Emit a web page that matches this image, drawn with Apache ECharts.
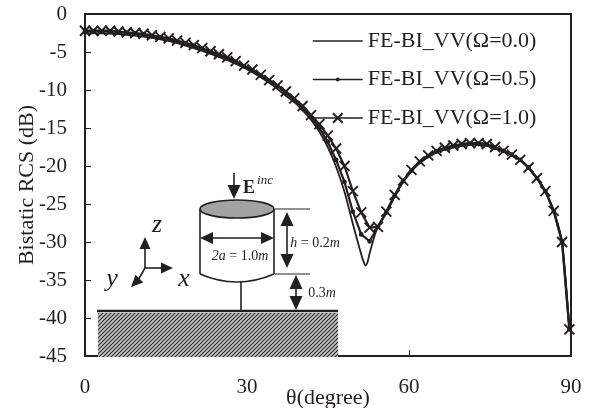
<!DOCTYPE html>
<html><head><meta charset="utf-8">
<script src="https://cdn.jsdelivr.net/npm/echarts@6/dist/echarts.min.js"></script>
<style>html,body{margin:0;padding:0;background:#fff}#c{width:590px;height:408px}</style>
</head><body><div id="c"></div>
<script>
const seriesNames = ['FE-BI_VV(Ω=0.0)','FE-BI_VV(Ω=0.5)','FE-BI_VV(Ω=1.0)'];
const xTicks = [0,30,60,90];
const theta = [0,1.55,3.1,4.65,6.2,7.75,9.3,10.85,12.4,13.95,15.5,17.05,18.6,20.15,21.7,23.25,24.8,26.35,27.9,29.45,31,32.55,34.1,35.65,37.2,38.75,40.3,41.85,43.4,44.95,46.5,48.05,49.6,51.15,52.7,54.25,55.8,57.35,58.9,60.45,62,63.55,65.1,66.65,68.2,69.75,71.3,72.85,74.4,75.95,77.5,79.05,80.6,82.15,83.7,85.25,86.8,88.35,89.7];
const vv10 = [-2.2,-2.2,-2.2,-2.2,-2.3,-2.4,-2.5,-2.6,-2.8,-3.0,-3.2,-3.5,-3.8,-4.1,-4.5,-4.9,-5.3,-5.7,-6.2,-6.8,-7.3,-8.0,-8.7,-9.4,-10.2,-11.1,-12.1,-13.3,-14.5,-16.0,-17.7,-20.0,-23.3,-26.1,-28.1,-28.0,-26.0,-23.8,-21.9,-20.5,-19.4,-18.6,-18.0,-17.6,-17.3,-17.1,-17.0,-17.0,-17.1,-17.5,-18.0,-18.5,-19.2,-20.2,-21.6,-23.3,-25.9,-30.0,-41.5];
const vv05 = [-2.3,-2.3,-2.3,-2.3,-2.4,-2.5,-2.6,-2.7,-2.9,-3.1,-3.3,-3.6,-3.9,-4.2,-4.6,-5.0,-5.4,-5.8,-6.3,-6.9,-7.4,-8.1,-8.8,-9.5,-10.4,-11.3,-12.4,-13.6,-15.0,-16.8,-19.2,-22.1,-26.0,-29.0,-29.9,-28.0,-26.1,-23.9,-22.0,-20.6,-19.5,-18.7,-18.1,-17.7,-17.4,-17.2,-17.1,-17.1,-17.2,-17.6,-18.0,-18.5,-19.2,-20.2,-21.6,-23.3,-25.9,-30.0,-41.5];
const theta00 = [0,3.1,6.2,9.3,12.4,15.5,18.6,21.7,24.8,27.9,31,34.1,37.2,38.75,40.3,41.85,43.4,44.95,46.5,48.05,49.6,50.4,51.15,51.6,51.9,52.3,52.7,53.7,54.25,55.8,57.35,58.9,60.45,62,65.1,68.2,71.3,74.4,77.5,80.6,83.7,85.25,86.8,88.35,89.7];
const vv00 = [-2.55,-2.55,-2.65,-2.85,-3.15,-3.55,-4.15,-4.85,-5.65,-6.55,-7.65,-9.05,-10.75,-11.6,-12.7,-13.9,-15.5,-17.5,-20.1,-23.4,-27.6,-29.7,-31.6,-32.6,-33.1,-32.7,-31.5,-29.0,-28.0,-26.2,-24.0,-22.1,-20.7,-19.6,-18.2,-17.5,-17.2,-17.3,-18.1,-19.2,-21.6,-23.3,-25.9,-30.0,-41.5];

const pair = (xs, ys) => xs.map((x, i) => [x, ys[i]]);
const ink = '#231f20', serif = '"Liberation Serif", serif';
const crossSymbol = 'path://M0 0L10 10M10 0L0 10';
const dotSymbol = 'path://M0 0h0.01M10 10h0.01M3 5a2 2 0 1 0 4 0a2 2 0 1 0 -4 0Z';
const blankSymbol = 'path://M0 0h0.01M10 10h0.01';

const cv = document.createElement('canvas'); cv.width = 4; cv.height = 4;
const cx = cv.getContext('2d');
cx.fillStyle = '#c9c9c9'; cx.fillRect(0,0,4,4);
cx.strokeStyle = '#2a2a2a'; cx.lineWidth = 1.2;
cx.beginPath(); cx.moveTo(-1,5); cx.lineTo(5,-1); cx.moveTo(-1,1); cx.lineTo(1,-1); cx.moveTo(3,5); cx.lineTo(5,3); cx.stroke();

const Z = 6;
const ln = (x1,y1,x2,y2,w=1.6) => ({type:'line', z:Z, shape:{x1,y1,x2,y2}, style:{stroke:ink, lineWidth:w}});
const head = (x,y,dx,dy,len=14,hw=6.5) => ({type:'polygon', z:Z, shape:{points:[[x,y],[x-dx*len-dy*hw,y-dy*len+dx*hw],[x-dx*len+dy*hw,y-dy*len-dx*hw]]}, style:{fill:ink}});
const txt = (x,y,text,font,extra={}) => ({type:'text', z:Z, x, y, style:Object.assign({text, font, fill:ink, align:'center', verticalAlign:'middle'}, extra)});
const ital = {i:{fontStyle:'italic', fontFamily:serif, fontSize:14, fill:ink}};
const inset = [
  {type:'rect', z:Z, shape:{x:98,y:313,width:240,height:44}, style:{fill:{image:cv, repeat:'repeat'}}},
  ln(97,311,338,311,2.4),
  ln(200,209,200,274), ln(274,209,274,274),
  {type:'bezierCurve', z:Z, shape:{x1:200,y1:274,x2:274,y2:274,cpx1:237,cpy1:290}, style:{fill:'none', stroke:ink, lineWidth:1.6}},
  {type:'ellipse', z:Z, shape:{cx:237,cy:209,rx:37,ry:9}, style:{fill:'#a3a3a3', stroke:ink, lineWidth:1.6}},
  ln(241,282,241,311),
  ln(234,173,234,190), head(234,199,0,1),
  txt(249,188,'E','bold 18px '+serif),
  txt(265,181,'inc','italic 13px '+serif),
  ln(206,238,268,238), head(200,238,-1,0,13,6), head(274,238,1,0,13,6),
  txt(240,256,'{i|2a} = 1.0{i|m}','14px '+serif,{rich:ital}),
  ln(275,209,310,209,1.2), ln(275,274,310,274,1.2),
  ln(287,218,287,262), head(287,212,0,-1), head(287,268,0,1),
  txt(315,243,'{i|h} = 0.2{i|m}','14px '+serif,{rich:ital}),
  ln(296,282,296,303), head(296,275,0,-1), head(296,310,0,1),
  txt(322,293,'0.3{i|m}','14px '+serif,{rich:ital}),
  ln(145,268,145,244), head(145,237,0,-1,12,5.5),
  ln(145,268,166,268), head(173,268,1,0,12,5.5),
  ln(145,268,137,282), head(131,287,-0.7,0.7,12,5.5),
  txt(157,225,'z','italic 26px '+serif),
  txt(112,279,'y','italic 26px '+serif),
  txt(184,279,'x','italic 26px '+serif)
];

const chart = echarts.init(document.getElementById('c'), null, {renderer:'canvas'});
chart.setOption({
  animation:false,
  backgroundColor:'#fff',
  textStyle:{fontFamily:serif, color:ink},
  grid:{left:85, top:14, right:19, bottom:52, outerBoundsMode:'none', containLabel:false, show:true, borderColor:ink, borderWidth:2, backgroundColor:'transparent'},
  legend:{
    orient:'vertical', left:312, top:30, itemWidth:50, itemHeight:12, itemGap:16.5, padding:0,
    lineStyle:{width:1.5},
    textStyle:{fontFamily:serif, fontSize:22, color:ink},
    data:seriesNames
  },
  xAxis:{
    type:'value', min:xTicks[0], max:xTicks[3], interval:30,
    name:'θ(degree)', nameLocation:'middle', nameGap:31, nameMoveOverlap:false,
    nameTextStyle:{fontFamily:serif, fontSize:22, color:ink},
    axisLine:{onZero:false, lineStyle:{color:ink, width:2}},
    axisTick:{inside:true, length:6, lineStyle:{color:ink, width:1}},
    axisLabel:{fontFamily:serif, fontSize:21, color:ink, margin:21, showMaxLabel:true, showMinLabel:true},
    splitLine:{show:false}
  },
  yAxis:{
    type:'value', min:-45, max:0, interval:5,
    name:'Bistatic RCS (dB)', nameLocation:'middle', nameGap:47, nameRotate:90, nameMoveOverlap:false,
    nameTextStyle:{fontFamily:serif, fontSize:22, color:ink},
    axisLine:{onZero:false, lineStyle:{color:ink, width:2}},
    axisTick:{inside:true, length:6, lineStyle:{color:ink, width:1}},
    axisLabel:{fontFamily:serif, fontSize:21, color:ink, margin:18},
    splitLine:{show:false}
  },
  series:[
    {name:seriesNames[0], type:'line', data:pair(theta00,vv00), smooth:0.25, symbol:blankSymbol, symbolSize:10, showSymbol:false, lineStyle:{color:ink,width:1.8}, itemStyle:{color:ink}},
    {name:seriesNames[1], type:'line', data:pair(theta,vv05), symbol:dotSymbol, symbolSize:12, showAllSymbol:true, lineStyle:{color:ink,width:2.2}, itemStyle:{color:ink}},
    {name:seriesNames[2], type:'line', data:pair(theta,vv10), symbol:crossSymbol, symbolSize:10, showAllSymbol:true, lineStyle:{color:ink,width:2.2}, itemStyle:{color:'none', borderColor:ink, borderWidth:1.9}}
  ],
  graphic:inset
});
</script></body></html>
